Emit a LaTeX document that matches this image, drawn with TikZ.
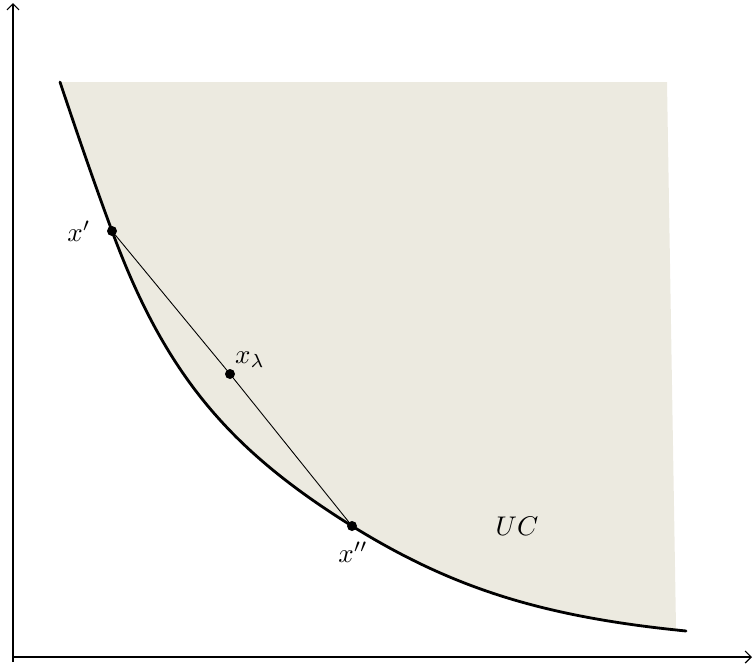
\documentclass[tikz,border=0pt]{standalone}
\usetikzlibrary{positioning, arrows.meta}
\definecolor{ucfill}{RGB}{236,234,224}
\begin{document}
\begin{tikzpicture}[x=1pt, y=-1pt,
		pt/.style={circle, fill=black, inner sep=0pt, minimum size=10pt},
		lbl/.style={scale=2.7, inner sep=0pt},
		axis/.style={line width=1.2pt, -{Straight Barb[length=6pt, width=12pt]}},
		bound/.style={line width=2.8pt, line cap=round}]
		\useasboundingbox (0,0) rectangle (753,664);

		% --- axes ---
		\coordinate (O) at (13,657);
		\coordinate (ytop) at (13,3);
		\coordinate (xend) at (752,657);
		\draw[axis] (13,662) -- (ytop);
		\draw[axis] (O) -- (xend);

		% --- upper contour set (shaded) ---
		\fill[ucfill] (60,82) .. controls (76.8,132.3) and (93.6,181.3) .. (112,231)
			.. controls (165.4,375.3) and (230,450) .. (352,526)
			.. controls (452.5,588.3) and (542.7,616.7) .. (686,631)
			-- (676,628) -- (667,82) -- cycle;

		% --- boundary curve ---
		\draw[bound] (60,82) .. controls (76.8,132.3) and (93.6,181.3) .. (112,231)
			.. controls (165.4,375.3) and (230,450) .. (352,526)
			.. controls (452.5,588.3) and (542.7,616.7) .. (686,631);

		% --- points on the chord ---
		\node[pt] (x1) at (112,231) {};
		\node[pt] (xl) at (230,374) {};
		\node[pt] (x2) at (352,526) {};
		\draw[line width=0.9pt] (x1) -- (xl) -- (x2);

		% --- labels ---
		\node[lbl] (lx1) at (79,231) {$x'$};
		\node[lbl] (lxl) at (250,360) {$x_\lambda$};
		\node[lbl] (lx2) at (353,552) {$x''$};
		\node[lbl] (uc) at (517,526) {$UC$};
	\end{tikzpicture}
\end{document}
